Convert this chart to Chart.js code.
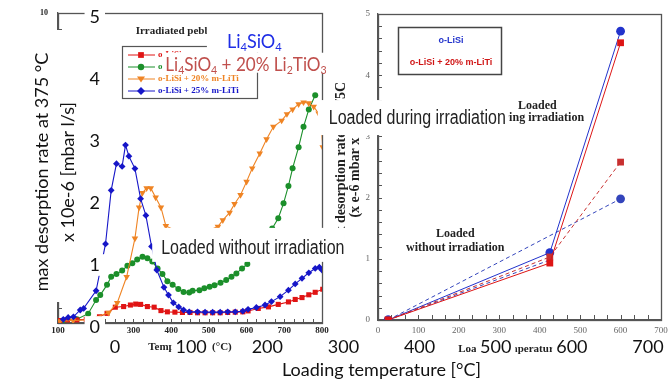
<!DOCTYPE html>
<html>
<head>
<meta charset="utf-8">
<script src="https://cdn.jsdelivr.net/npm/chart.js@4.4.1/dist/chart.umd.min.js"></script>
<style>
html, body { margin: 0; padding: 0; background: #fff; }
#wrap { position: relative; width: 670px; height: 381px; overflow: hidden; background: #fff; }
#wrap canvas { position: absolute; left: 0; top: 0; }
</style>
</head>
<body>
<div id="wrap">
  <canvas id="left" width="670" height="381"></canvas>
  <canvas id="right" width="670" height="381"></canvas>
  <canvas id="front" width="670" height="381"></canvas>
</div>
<script>
// left scanned panel: desorption spectra (temperature °C, rate)
let tdsRedT = [105, 125, 150, 175, 210, 230, 252, 274, 292, 306, 319, 337, 355, 373, 390, 410, 430, 450, 470, 490, 510, 530, 550, 570, 590, 604, 631, 658, 684, 711, 729, 747, 765, 782, 802];
let tdsRedV = [0.08, 0.10, 0.10, 0.12, 0.20, 0.31, 0.51, 0.53, 0.58, 0.61, 0.60, 0.53, 0.51, 0.40, 0.36, 0.35, 0.34, 0.34, 0.33, 0.33, 0.33, 0.33, 0.34, 0.35, 0.36, 0.39, 0.47, 0.52, 0.60, 0.68, 0.76, 0.82, 0.91, 0.99, 1.09];

let tdsGreenT = [115, 150, 180, 201, 212, 230, 241, 255, 270, 284, 297, 310, 324, 337, 350, 364, 377, 390, 404, 419, 433, 448, 457, 475, 488, 502, 515, 531, 546, 560, 573, 588, 602, 668, 684, 698, 711, 722, 738, 751, 765, 782];
let tdsGreenV = [0.08, 0.12, 0.30, 0.74, 0.90, 1.23, 1.49, 1.58, 1.69, 1.85, 1.93, 2.05, 2.14, 2.09, 1.98, 1.76, 1.58, 1.35, 1.23, 1.10, 1.00, 0.98, 1.04, 1.06, 1.12, 1.17, 1.22, 1.30, 1.39, 1.49, 1.60, 1.76, 1.90, 3.05, 3.38, 3.86, 4.42, 4.99, 5.67, 6.33, 6.89, 7.35];

let tdsOrangeT = [105, 140, 180, 234, 257, 282, 304, 315, 324, 335, 346, 359, 373, 386, 453, 524, 537, 555, 568, 584, 600, 615, 635, 653, 671, 693, 707, 722, 738, 751, 765, 778, 791, 798, 802, 802];
let tdsOrangeV = [0.06, 0.08, 0.10, 0.33, 0.65, 1.49, 2.73, 3.73, 4.20, 4.35, 4.35, 4.05, 3.73, 3.13, 2.74, 3.11, 3.32, 3.56, 3.84, 4.13, 4.56, 4.99, 5.47, 5.93, 6.33, 6.53, 6.74, 6.89, 7.06, 7.12, 7.09, 6.98, 6.76, 6.44, 5.67, 5.31];

let tdsBlueT = [114, 127, 141, 159, 168, 201, 226, 241, 255, 270, 279, 288, 304, 319, 333, 348, 362, 381, 393, 406, 420, 433, 448, 470, 490, 510, 530, 550, 570, 590, 604, 626, 649, 666, 689, 711, 729, 747, 765, 782, 793, 800, 802, 802];
let tdsBlueV = [0.12, 0.18, 0.20, 0.42, 0.47, 1.04, 2.55, 4.28, 5.14, 5.05, 5.74, 5.38, 4.98, 4.01, 3.47, 2.47, 1.71, 1.15, 0.90, 0.65, 0.52, 0.42, 0.36, 0.36, 0.35, 0.35, 0.35, 0.36, 0.36, 0.38, 0.44, 0.50, 0.58, 0.69, 0.85, 1.06, 1.26, 1.44, 1.62, 1.76, 1.80, 1.71, 1.39, 1.17];

// right scanned panel: max rate vs loading temperature
let loadT = [25, 425, 600];
let irrLiSi = [0, 1.10, 4.72];
let irrMix = [0, 0.93, 4.53];
let dryMix = [0, 1.03, 2.58];
let dryLiSiA = [0, 0.98, null];
let dryLiSiB = [0, null, 1.98];

// front axes
let frontYTitle = ["max desorption rate at 375 °C", "x 10e-6 [mbar l/s]"];
let frontXTitle = "Loading temperature [°C]";

const modern = 'Lato, "Open Sans", sans-serif';
const serif = '"Liberation Serif", "DejaVu Serif", serif';
const sans = '"Liberation Sans", Arial, sans-serif';

function pts(xs, ys) {
    return xs.map((x, i) => ({ x: x, y: ys[i] }));
}

// keep the boxes exactly where we put them
function fixSize(prop, size) {
    return s => {
        s[prop] = size;
        s.paddingTop = 0; s.paddingBottom = 0; s.paddingLeft = 0; s.paddingRight = 0;
    };
}

function splitSub(text) {
    return text.split(/(_\d)/).filter(Boolean).map(s => s[0] === "_" ? { t: s.slice(1), sub: true } : { t: s, sub: false });
}

function fontOf(n, sub) {
    return (n.weight || "normal") + " " + (sub ? n.size * 0.62 : n.size) + "px " + n.family;
}

function drawNote(ctx, n, cx, cy) {
    let sx = n.sx || 1;
    let ps = splitSub(n.text);
    let w = 0;
    ps.forEach(p => { ctx.font = fontOf(n, p.sub); p.w = ctx.measureText(p.t).width * sx; w += p.w; });
    let x = n.align === "left" ? cx : cx - w / 2;
    if (n.box) {
        let [l, t, r, b] = n.box;
        ctx.fillStyle = "#fff";
        ctx.fillRect(x - l, cy - t, w + l + r, t + b);
    }
    ctx.fillStyle = n.color;
    ctx.textAlign = "left";
    ctx.textBaseline = "middle";
    ps.forEach(p => {
        ctx.save();
        ctx.font = fontOf(n, p.sub);
        ctx.translate(x, p.sub ? cy + n.size * 0.28 : cy);
        ctx.scale(sx, 1);
        ctx.fillText(p.t, 0, 0);
        ctx.restore();
        x += p.w;
    });
}

function notesPlugin(items) {
    return {
        id: "notes",
        afterDraw(chart) {
            let ctx = chart.ctx;
            ctx.save();
            items.forEach(n => drawNote(ctx, n, chart.scales.x.getPixelForValue(n.x), chart.scales.y.getPixelForValue(n.y)));
            ctx.restore();
        }
    };
}

// frame + little inward ticks, like the scanned plots
function framePlugin(specs) {
    return {
        id: "frame",
        beforeDatasetsDraw(chart) {
            let ctx = chart.ctx, a = chart.chartArea;
            ctx.save();
            ctx.strokeStyle = "#555";
            ctx.lineWidth = 1;
            specs.forEach(s => {
                let sc = chart.scales[s.axis];
                for (let v = sc.min; v <= sc.max + 1e-9; v += s.step) {
                    let p = Math.round(sc.getPixelForValue(v)) + 0.5;
                    ctx.beginPath();
                    if (s.axis === "x") { ctx.moveTo(p, a.bottom); ctx.lineTo(p, a.bottom - s.len); }
                    else { ctx.moveTo(a.left, p); ctx.lineTo(a.left + s.len, p); }
                    ctx.stroke();
                }
            });
            ctx.lineWidth = 1.3;
            ctx.strokeRect(Math.round(a.left) + 0.5, Math.round(a.top) + 0.5, Math.round(a.right - a.left), Math.round(a.bottom - a.top));
            ctx.restore();
        }
    };
}

function mark(ctx, style, x, y, r, color) {
    ctx.fillStyle = color;
    ctx.beginPath();
    if (style === "rect") { let s = r * 0.72; ctx.rect(x - s, y - s, 2 * s, 2 * s); }
    else if (style === "circle") ctx.arc(x, y, r * 0.8, 0, Math.PI * 2);
    else if (style === "triangle") { ctx.moveTo(x - r, y - r * 0.6); ctx.lineTo(x + r, y - r * 0.6); ctx.lineTo(x, y + r * 0.9); ctx.closePath(); }
    else { ctx.moveTo(x, y - r); ctx.lineTo(x + r, y); ctx.lineTo(x, y + r); ctx.lineTo(x - r, y); ctx.closePath(); }
    ctx.fill();
}

const leftLegend = {
    id: "leftLegend",
    afterDraw(chart) {
        let ctx = chart.ctx;
        ctx.save();
        ctx.fillStyle = "#fff";
        ctx.fillRect(122, 46, 135, 52);
        ctx.strokeStyle = "#555";
        ctx.lineWidth = 1.2;
        ctx.strokeRect(122.5, 46.5, 135, 52);
        chart.data.datasets.forEach((ds, i) => {
            let y = 55 + i * 12;
            ctx.strokeStyle = ds.borderColor;
            ctx.lineWidth = 1;
            ctx.beginPath(); ctx.moveTo(128, y); ctx.lineTo(155, y); ctx.stroke();
            mark(ctx, ds.pointStyle, 141, y, 4, ds.borderColor);
            ctx.fillStyle = ds.borderColor;
            ctx.font = "bold 9px " + serif;
            ctx.textAlign = "left";
            ctx.textBaseline = "middle";
            ctx.fillText(ds.label, 158, y);
        });
        ctx.restore();
    }
};

const rightLegend = {
    id: "rightLegend",
    afterDraw(chart) {
        let ctx = chart.ctx;
        ctx.save();
        ctx.strokeStyle = "#444";
        ctx.lineWidth = 1.5;
        ctx.strokeRect(398.5, 27.5, 103, 47);
        ctx.font = "bold 9px " + sans;
        ctx.textAlign = "center";
        ctx.textBaseline = "middle";
        ctx.fillStyle = "#2233cc";
        ctx.fillText("o-LiSi", 451, 41);
        ctx.fillStyle = "#d01515";
        ctx.fillText("o-LiSi + 20% m-LiTi", 451, 63);
        ctx.restore();
    }
};

const noPlugins = { legend: { display: false }, tooltip: { enabled: false } };

// ---------- left scan ----------
function tdsSet(label, t, v, color, style, radius, rot, order) {
    return {
        label: label, data: pts(t, v), borderColor: color, backgroundColor: color,
        borderWidth: 1.1, pointStyle: style, pointRadius: radius, pointRotation: rot,
        pointBorderWidth: 0, pointBackgroundColor: color, order: order
    };
}

new Chart(document.getElementById("left"), {
    type: "line",
    data: {
        datasets: [
            tdsSet("o-LiSi", tdsRedT, tdsRedV, "#e01414", "rect", 3.6, 0, 2),
            tdsSet("o-LiSi + 10% m-LiTi", tdsGreenT, tdsGreenV, "#1b8f2a", "circle", 3, 0, 3),
            tdsSet("o-LiSi + 20% m-LiTi", tdsOrangeT, tdsOrangeV, "#ef8424", "triangle", 3.8, 180, 1),
            tdsSet("o-LiSi + 25% m-LiTi", tdsBlueT, tdsBlueV, "#1616c8", "rectRot", 3.4, 0, 0)
        ]
    },
    options: {
        responsive: false,
        animation: false,
        layout: { padding: { left: 10, right: 348, top: 13, bottom: 23 } },
        plugins: noPlugins,
        scales: {
            x: {
                type: "linear", min: 100, max: 800,
                afterFit: fixSize("height", 35),
                grid: { display: false, drawTicks: false },
                border: { display: true, color: "#555", width: 1.3 },
                ticks: { stepSize: 100, autoSkip: false, maxRotation: 0, padding: 2, color: "#222", font: { family: serif, size: 9, weight: "bold" } },
                title: { display: true, text: "Temperature (°C)", color: "#222", font: { family: serif, size: 11, weight: "bold" }, padding: { top: 0, bottom: 4 } }
            },
            y: {
                min: 0, max: 10,
                afterFit: fixSize("width", 48),
                grid: { display: false, drawTicks: false },
                border: { display: true, color: "#555", width: 1.3 },
                ticks: { stepSize: 10, padding: 10, color: "#222", font: { family: serif, size: 8, weight: "bold" }, callback: v => v === 10 ? "10" : "" }
            }
        }
    },
    plugins: [
        framePlugin([{ axis: "x", step: 25, len: 4 }, { axis: "y", step: 0.5, len: 4 }]),
        leftLegend,
        notesPlugin([
            { x: 306, y: 9.4, text: "Irradiated pebbles", size: 11, family: serif, weight: "bold", color: "#222", align: "left" }
        ])
    ]
});

// ---------- right scan ----------
function loadSet(label, v, color, style, radius, dash) {
    return {
        label: label, data: pts(loadT, v), borderColor: color, backgroundColor: color,
        borderWidth: 1, borderDash: dash, pointStyle: style, pointRadius: radius,
        pointBorderWidth: 0, pointBackgroundColor: color, spanGaps: true
    };
}

new Chart(document.getElementById("right"), {
    type: "line",
    data: {
        datasets: [
            loadSet("o-LiSi + 20% m-LiTi", irrMix, "#dd1515", "rect", 4.8, []),
            loadSet("o-LiSi + 20% m-LiTi, no irradiation", dryMix, "#c83030", "rect", 4.8, [4, 3]),
            loadSet("o-LiSi", irrLiSi, "#2233cc", "circle", 4.4, []),
            loadSet("o-LiSi, no irradiation", dryLiSiA, "#3344bb", "rect", 0, [4, 3]),
            loadSet("o-LiSi, no irradiation (2)", dryLiSiB, "#3344bb", "circle", 4.4, [4, 3])
        ]
    },
    options: {
        responsive: false,
        animation: false,
        layout: { padding: { left: 330, right: 9, top: 14, bottom: 23 } },
        plugins: noPlugins,
        scales: {
            x: {
                type: "linear", min: 0, max: 700,
                afterFit: fixSize("height", 38),
                grid: { display: false, drawTicks: false },
                border: { display: true, color: "#555", width: 1.3 },
                ticks: { stepSize: 100, autoSkip: false, maxRotation: 0, padding: 5, color: "#666", font: { family: serif, size: 9 } },
                title: { display: true, text: "Loading temperature (°C)", color: "#222", font: { family: serif, size: 11, weight: "bold" }, padding: { top: 0, bottom: 2 } }
            },
            y: {
                min: 0, max: 5,
                afterFit: fixSize("width", 48),
                grid: { display: false, drawTicks: false },
                border: { display: true, color: "#555", width: 1.3 },
                ticks: { stepSize: 1, padding: 8, color: "#666", font: { family: serif, size: 9 } },
                title: {
                    display: true, text: ["max desorption rate at 375C", "(x e-6 mbar x l/s)"], color: "#222",
                    font: { family: serif, size: 14, weight: "bold", lineHeight: 0.95 }, padding: { top: 5, bottom: 0 }
                }
            }
        }
    },
    plugins: [
        framePlugin([{ axis: "x", step: 100 / 3, len: 5 }, { axis: "y", step: 0.2, len: 4 }]),
        rightLegend,
        notesPlugin([
            { x: 394, y: 3.50, text: "Loaded", size: 12, family: serif, weight: "bold", color: "#222" },
            { x: 394, y: 3.30, text: "during irradiation", size: 12, family: serif, weight: "bold", color: "#222" },
            { x: 191, y: 1.40, text: "Loaded", size: 12, family: serif, weight: "bold", color: "#222" },
            { x: 191, y: 1.18, text: "without irradiation", size: 12, family: serif, weight: "bold", color: "#222" }
        ])
    ]
});

// ---------- front axes and labels ----------
const titleBlank = {
    id: "titleBlank",
    beforeDraw(chart) {
        let ctx = chart.ctx;
        ctx.save();
        ctx.fillStyle = "#fff";
        ctx.fillRect(18, 30, 64, 272);
        ctx.restore();
    }
};

new Chart(document.getElementById("front"), {
    type: "line",
    data: { datasets: [] },
    options: {
        responsive: false,
        animation: false,
        layout: { padding: { left: 0, right: 22, top: 17, bottom: 0 } },
        plugins: noPlugins,
        scales: {
            x: {
                type: "linear", min: 0, max: 700,
                afterFit: fixSize("height", 54),
                grid: { display: false, drawTicks: false },
                border: { display: false },
                ticks: {
                    stepSize: 100, autoSkip: false, maxRotation: 0, padding: 9, color: "#111",
                    font: { family: modern, size: 18 },
                    showLabelBackdrop: true, backdropColor: "#fff", backdropPadding: { x: 4, y: 0 }
                },
                title: { display: true, text: frontXTitle, color: "#111", font: { family: modern, size: 18 }, padding: 0 }
            },
            y: {
                type: "linear", min: 0, max: 5,
                afterFit: fixSize("width", 115),
                grid: { display: false, drawTicks: false },
                border: { display: false },
                ticks: {
                    stepSize: 1, padding: 15, color: "#111",
                    font: { family: modern, size: 18 },
                    showLabelBackdrop: true, backdropColor: "#fff", backdropPadding: { x: 5, y: 0 }
                },
                title: { display: true, text: frontYTitle, color: "#111", font: { family: modern, size: 18, lineHeight: 1.45 }, padding: { top: 29, bottom: 0 } }
            }
        }
    },
    plugins: [
        titleBlank,
        notesPlugin([
            { x: 183, y: 4.60, text: "Li_4SiO_4", size: 19, sx: 0.95, family: modern, color: "#1f2ee6", box: [20, 16, 18, 11] },
            { x: 172, y: 4.23, text: "Li_4SiO_4 + 20% Li_2TiO_3", size: 19, sx: 0.9, family: modern, color: "#c0504d", box: [3, 12, 4, 8] },
            { x: 397, y: 3.37, text: "Loaded during irradiation", size: 20, sx: 0.8, family: sans, color: "#222", box: [11, 18, 3, 17] },
            { x: 181, y: 1.26, text: "Loaded without irradiation", size: 20, sx: 0.8, family: sans, color: "#222", box: [9, 21, 7, 13] }
        ])
    ]
});
</script>
</body>
</html>
